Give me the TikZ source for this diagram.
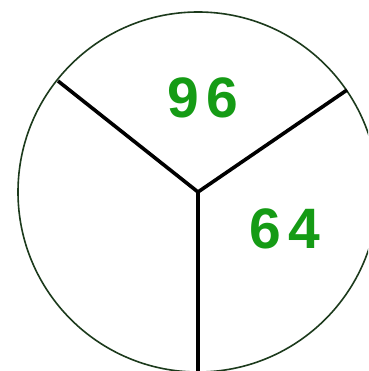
\documentclass[tikz,border=0pt]{standalone}
\usepackage{fontspec}
\setmainfont{Liberation Sans}
\usepackage{xcolor}
\usepackage{tikz}
\definecolor{rimc}{HTML}{1C3A1C}
\definecolor{numc}{HTML}{159B15}
\tikzset{
  rim/.style={draw=rimc,line width=1.6pt},
  spoke/.style={draw=black,line width=3.6pt},
  num/.style={text=numc,inner sep=0pt,font=\fontsize{57}{57}\selectfont\bfseries\addfontfeature{LetterSpace=14}}
}

\begin{document}
\begin{tikzpicture}[x=1pt,y=-1pt]
\useasboundingbox (0,0) rectangle (368,371);
\clip (0,0) rectangle (368,371);
\coordinate (O) at (198,192);
\coordinate (L) at (58,81);
\coordinate (R) at (347,90);
\coordinate (B) at (198,380);
\draw[rim] (O) circle (180);
\draw[spoke] (L)--(O)--(R) (O)--(B);
\node[num] (top) at (203,97.5) {96};
\node[num] (right) at (285,229) {64};
\end{tikzpicture}
\end{document}
